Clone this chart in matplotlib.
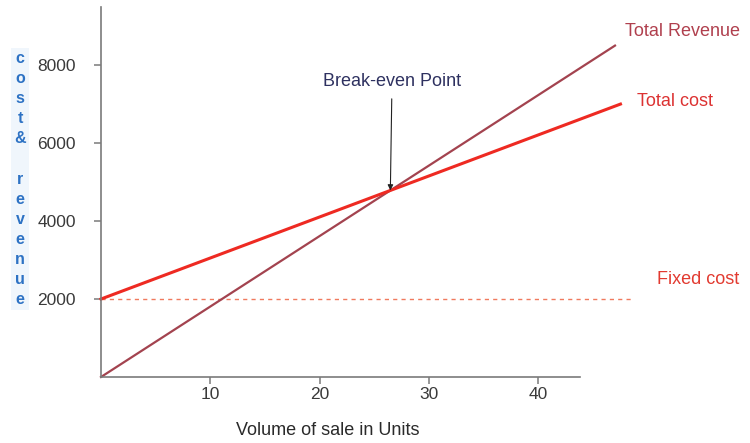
import matplotlib
matplotlib.use("Agg")
import matplotlib.pyplot as plt

plt.rcParams["font.family"] = ["Liberation Sans", "DejaVu Sans"]

# break-even chart data
revenue_units = [0, 47]
total_revenue = [0, 8500]
cost_units = [0, 47.5]
total_cost = [2000, 7000]
fixed_units = [0, 48.7]
fixed_cost = [2000, 2000]

x_ticks = [10, 20, 30, 40]
y_ticks = [2000, 4000, 6000, 8000]

fig = plt.figure(figsize=(7.5, 4.43), dpi=100)
ax = fig.add_axes([101 / 750, 66 / 443, 479 / 750, 370 / 443])
ax.set_xlim(0, 43.8)
ax.set_ylim(0, 9490)

ax.plot(fixed_units, fixed_cost, color="#f07a5e", lw=1.0, ls=(0, (3, 3)), clip_on=False)
ax.plot(revenue_units, total_revenue, color="#a3434f", lw=1.6, clip_on=False)
ax.plot(cost_units, total_cost, color="#ee2a22", lw=2.2, clip_on=False)

for s in ["top", "right"]:
    ax.spines[s].set_visible(False)
for s in ["left", "bottom"]:
    ax.spines[s].set_color("#7a7a7a")
    ax.spines[s].set_linewidth(1.2)

ax.set_xticks(x_ticks)
ax.set_yticks(y_ticks)
ax.tick_params(axis="both", colors="#7a7a7a", labelcolor="#3a3a3a",
               labelsize=12.5, length=5, width=1.1)
ax.tick_params(axis="y", pad=13)
ax.tick_params(axis="x", pad=2)

ax.set_xlabel("Volume of sale in Units", fontsize=13, color="#2a2a2a")
ax.xaxis.set_label_coords(0.474, -0.122)

# stacked y-axis caption
fig.text(20 / 750, 1 - 179 / 443, "c\no\ns\nt\n&\n\nr\ne\nv\ne\nn\nu\ne",
         ha="center", va="center", fontsize=11.5, fontweight="bold", color="#2d72c4",
         linespacing=1.42,
         bbox=dict(boxstyle="square,pad=0.2", fc="#f0f6fc", ec="none"))

# break-even point where revenue meets cost
rev_slope = (total_revenue[1] - total_revenue[0]) / (revenue_units[1] - revenue_units[0])
cost_slope = (total_cost[1] - total_cost[0]) / (cost_units[1] - cost_units[0])
be_x = (total_cost[0] - total_revenue[0]) / (rev_slope - cost_slope)
be_y = total_revenue[0] + rev_slope * be_x
ax.annotate("Break-even Point", xy=(be_x, be_y), xytext=(392 / 750, 1 - 82 / 443),
            textcoords="figure fraction", ha="center", va="center",
            fontsize=13, color="#2e3160",
            arrowprops=dict(arrowstyle="-|>", color="#222222", lw=0.8,
                            mutation_scale=8, shrinkA=4, shrinkB=0))

fig.text(625 / 750, 1 - 32 / 443, "Total Revenue", fontsize=13, color="#b0404e", va="center")
fig.text(637 / 750, 1 - 102 / 443, "Total cost", fontsize=13, color="#dc3232", va="center")
fig.text(657 / 750, 1 - 280 / 443, "Fixed cost", fontsize=13, color="#e23a30", va="center")

fig.savefig("out.png", dpi=100)
